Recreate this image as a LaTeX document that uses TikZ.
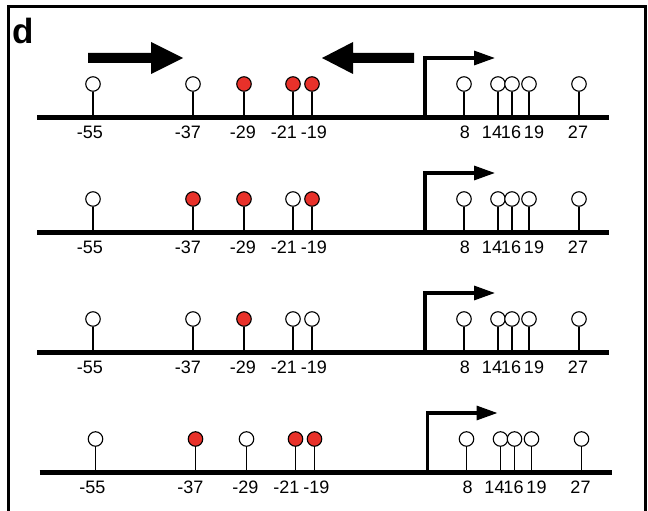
\documentclass[tikz,border=0pt]{standalone}
\usepackage{fontspec}
\setmainfont{Liberation Sans}
\usetikzlibrary{arrows.meta}
\definecolor{mred}{HTML}{E8312A}
\tikzset{
  site/.style={circle,draw=black,line width=1.1pt,minimum size=14.5pt,inner sep=0pt},
  stem/.style={line width=1.3pt},
  dna/.style={line width=5pt},
  poslabel/.style={font=\fontsize{18}{19}\selectfont,inner sep=0pt,anchor=base},
  tss/.style={line width=3.2pt,-{Triangle[length=21pt,width=14pt]}},
  bigarrow/.style={fill=black},
  frame/.style={line width=3pt},
}
\begin{document}
\begin{tikzpicture}[x=1pt,y=-1pt]
\useasboundingbox (0,0) rectangle (648,511);
% frame (open at bottom)
\draw[frame] (8,512) -- (8,7) -- (645,7) -- (645,512);
% panel letter
\node[font=\bfseries\fontsize{35}{36}\selectfont,anchor=base west,inner sep=0pt] (lbl) at (12,44) {d};
% big arrows (row 1)
\fill[bigarrow] (88,53) -- (151,53) -- (151,42) -- (183,58) -- (151,74) -- (151,63) -- (88,63) -- cycle;
\fill[bigarrow] (414,53) -- (353,53) -- (353,42) -- (322,58) -- (353,74) -- (353,63) -- (414,63) -- cycle;
% rows
\foreach \r/\by/\dx/\sa/\sb/\sc/\sd/\se in {
  1/117/0/white/white/mred/mred/mred,
  2/232/0/white/mred/mred/white/mred,
  3/352/0/white/white/mred/white/white,
  4/472/2.5/white/mred/white/mred/mred}{
  \begin{scope}[xshift=\dx pt]
    \coordinate (L\r) at (37,\by);
    \coordinate (R\r) at (609,\by);
    \draw[dna] (L\r) -- (R\r);
    \foreach \x/\lx/\t/\st [count=\i] in {
      93/90/-55/\sa, 193/188/-37/\sb, 244/243/-29/\sc, 293/284/-21/\sd, 312/314/-19/\se,
      464/465/8/white, 498/492/14/white, 512/511/16/white, 529/534/19/white, 579/578/27/white}{
      \node[site,fill=\st] (c\r-\i) at (\x,\by-33) {};
      \coordinate (b\r-\i) at (\x,\by);
      \draw[stem] (c\r-\i.south) -- (b\r-\i);
      \node[poslabel] (t\r-\i) at (\lx,\by+21) {\t};
    }
    \coordinate (p\r) at (425,\by);
    \coordinate (q\r) at (495,\by-59);
    \draw[tss] (p\r) |- (q\r);
  \end{scope}
}
\end{tikzpicture}
\end{document}
